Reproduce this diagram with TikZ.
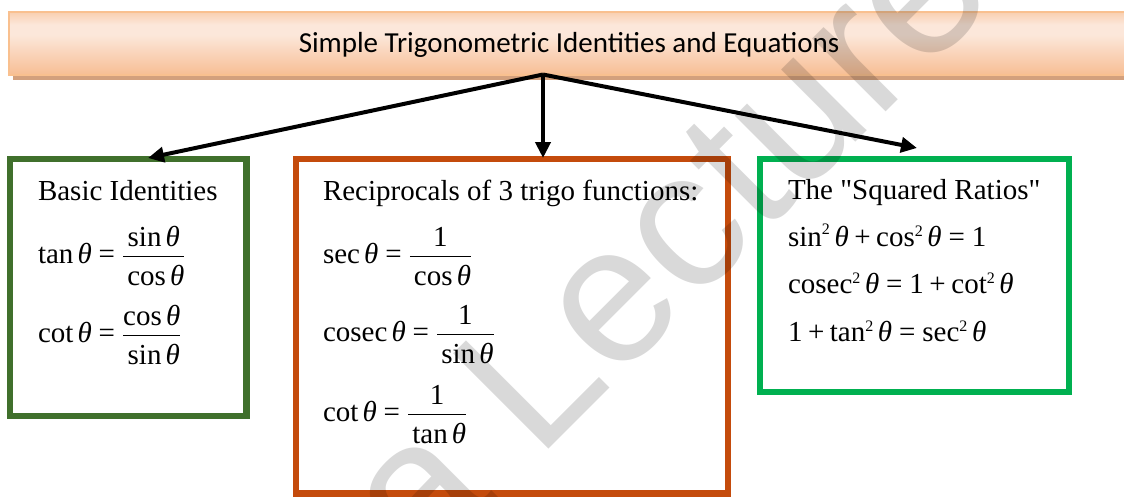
\documentclass[tikz,border=0pt]{standalone}
\usepackage{amsmath}
\usepackage{fontspec}
\setmainfont{Liberation Serif}
\newfontfamily\quotefont{Liberation Serif}
\newfontfamily\titlefont{Carlito}
\newfontfamily\wmfont{Liberation Sans}
\usetikzlibrary{arrows.meta}
\definecolor{darkgreen}{RGB}{64,112,44}
\definecolor{burnt}{RGB}{196,75,12}
\definecolor{brightgreen}{RGB}{0,176,80}
\definecolor{bTop}{RGB}{249,207,176}
\definecolor{bMid}{RGB}{252,231,218}
\definecolor{bBot}{RGB}{247,190,148}
\definecolor{bEdge}{RGB}{249,192,143}
\definecolor{bShadow}{RGB}{211,160,125}
\pgfdeclareverticalshading{bannershade}{100bp}{color(0bp)=(bBot); color(25bp)=(bBot); color(57bp)=(bMid); color(65bp)=(bMid); color(75bp)=(bTop); color(100bp)=(bTop)}
\newcommand{\mytheta}{\text{\itshape θ}}
\newcommand{\mytrig}[1]{\mathop{\text{#1}}\nolimits}
\newcommand{\myeq}{\mathrel{\text{=}}}
\newcommand{\myplus}{\mathbin{\text{+}}}
\newcommand{\myone}{\text{1}}
\newcommand{\mysq}{^{\text{\fontsize{16}{16}\selectfont 2}}}
\newcommand{\mydstrut}{\rule{0pt}{25pt}}
\newcommand{\myquote}{{\quotefont"}}
\begin{document}
\begin{tikzpicture}[x=1pt,y=-1pt,
  every node/.style={inner sep=0pt, outer sep=0pt},
  txt/.style={anchor=base west, font=\fontsize{29}{34}\selectfont},
  boxstyle/.style={draw=#1, line width=6.5pt},
  conn/.style={line width=4pt, line join=round, -{Triangle[length=16pt,width=15pt]}}]
\useasboundingbox (0,0) rectangle (1124,496);
% banner
\fill[bShadow] (13,70) rectangle (1130,80);
\node[draw=bEdge, line width=1.5pt, shade, shading=bannershade,
      minimum width=1120pt, minimum height=63pt,
      font=\titlefont\fontsize{29}{34}\selectfont, text height=22pt, text depth=5pt]
      (banner) at (569,43.5) {Simple Trigonometric Identities and Equations};
% boxes
\node[boxstyle=darkgreen, minimum width=236.7pt, minimum height=257.2pt] (basic) at (128.3,287.4) {};
\node[boxstyle=burnt, minimum width=432pt, minimum height=334.7pt] (recip) at (512,326.2) {};
\node[boxstyle=brightgreen, minimum width=308.5pt, minimum height=232.7pt, line width=6pt] (squared) at (914.6,275.3) {};
% connectors
\coordinate (apex) at (543,74.5);
\coordinate (tipL) at (148,158);
\coordinate (tipM) at (543,158);
\coordinate (tipR) at (917,148);
\draw[conn] (apex) -- (tipL);
\draw[conn] (apex) -- (tipM);
\draw[conn] (apex) -- (tipR);
% left box
\node[txt] (basicT) at (38,200) {Basic Identities};
\node[txt] (tanEq) at (38,263) {$\displaystyle \mytrig{tan}\mytheta\myeq\frac{\mytrig{sin}\mytheta}{\mydstrut\mytrig{cos}\mytheta}$};
\node[txt] (cotEq) at (38,342) {$\displaystyle \mytrig{cot}\mytheta\myeq\frac{\mytrig{cos}\mytheta}{\mydstrut\mytrig{sin}\mytheta}$};
% middle box
\node[txt] (recipT) at (323,200) {Reciprocals of 3 trigo functions:};
\node[txt] (secEq) at (323,263) {$\displaystyle \mytrig{sec}\mytheta\myeq\frac{\myone}{\mydstrut\mytrig{cos}\mytheta}$};
\node[txt] (cosecEq) at (323,341) {$\displaystyle \mytrig{cosec}\mytheta\myeq\frac{\myone}{\mydstrut\mytrig{sin}\mytheta}$};
\node[txt] (cotEqB) at (323,421) {$\displaystyle \mytrig{cot}\mytheta\myeq\frac{\myone}{\mydstrut\mytrig{tan}\mytheta}$};
% right box
\node[txt] (squaredT) at (788,199) {The \myquote Squared Ratios\myquote};
\node[txt] (pyth1) at (788,246) {$\mytrig{sin}\mysq\mytheta\myplus\mytrig{cos}\mysq\mytheta\myeq\myone$};
\node[txt] (pyth2) at (788,293) {$\mytrig{cosec}\mysq\mytheta\myeq\myone\myplus\mytrig{cot}\mysq\mytheta$};
\node[txt] (pyth3) at (788,341) {$\myone\myplus\mytrig{tan}\mysq\mytheta\myeq\mytrig{sec}\mysq\mytheta$};
% watermark
\node[rotate=45, anchor=base west, font=\wmfont\fontsize{196}{196}\selectfont, text=black, text opacity=0.15] (wm) at (422.3,575.7) {a Lecture};
\end{tikzpicture}
\end{document}
